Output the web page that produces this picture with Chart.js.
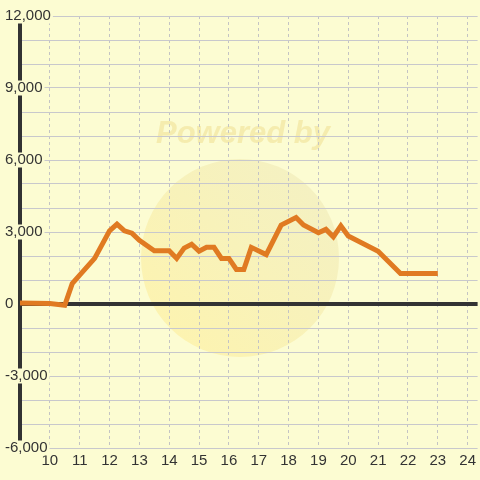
<!DOCTYPE html>
<html>
<head>
<meta charset="utf-8">
<script src="https://cdn.jsdelivr.net/npm/chart.js@4"></script>
<style>
  html, body { margin: 0; padding: 0; background: #fcfcd2; }
  canvas { display: block; }
</style>
</head>
<body>
<canvas id="chart" width="480" height="480"></canvas>
<script>
/* ── Data ───────────────────────────────────────────────────────────────────── */
const HOURS = [
  9, 10, 10.5, 10.75, 11, 11.5, 12, 12.25, 12.5, 12.75, 13, 13.5,
  14, 14.25, 14.5, 14.75, 15, 15.25, 15.5, 15.75, 16, 16.25, 16.5, 16.75,
  17.25, 17.75, 18.25, 18.5, 19, 19.25, 19.5, 19.75, 20, 21, 21.75, 23,
];
const VALUES = [
  40, 20, -50, 850, 1200, 1900, 3050, 3330, 3050, 2950, 2650, 2220,
  2220, 1900, 2330, 2490, 2200, 2360, 2360, 1900, 1900, 1440, 1440, 2360,
  2060, 3290, 3600, 3290, 2970, 3110, 2800, 3260, 2830, 2200, 1270, 1270,
];
const X_TICKS = [10, 11, 12, 13, 14, 15, 16, 17, 18, 19, 20, 21, 22, 23, 24];
const Y_LABEL_STEP = 3000;

/* ── Style ──────────────────────────────────────────────────────────────────── */
const BG = "#fcfcd2";
const TEXT = "#333333";
const LINE = "#e07a22";
const FONT = "'Liberation Sans', Arial, sans-serif";

/* ── Watermark (drawn under the grid) ───────────────────────────────────────── */
const watermark = {
  id: "watermark",
  beforeDraw(chart) {
    const { ctx } = chart;
    ctx.save();
    ctx.fillStyle = BG;
    ctx.fillRect(0, 0, chart.width, chart.height);

    const g = ctx.createLinearGradient(160, 340, 320, 170);
    g.addColorStop(0, "rgba(255,228,110,0.35)");
    g.addColorStop(1, "rgba(225,215,160,0.30)");
    ctx.fillStyle = g;
    ctx.beginPath();
    ctx.arc(240, 258, 99, 0, Math.PI * 2);
    ctx.fill();

    ctx.font = "italic bold 31px " + FONT;
    ctx.fillStyle = "rgba(232,205,110,0.35)";
    ctx.textAlign = "center";
    ctx.textBaseline = "alphabetic";
    ctx.fillText("Powered by", 243, 143);
    ctx.restore();
  },
};

/* ── Chart ──────────────────────────────────────────────────────────────────── */
const fmt = (v) => v.toLocaleString("en-US");

new Chart(document.getElementById("chart"), {
  type: "line",
  data: {
    datasets: [{
      data: HOURS.map((h, i) => ({ x: h, y: VALUES[i] })),
      borderColor: LINE,
      borderWidth: 5,
      pointRadius: 0,
      tension: 0,
      fill: false,
    }],
  },
  options: {
    responsive: false,
    animation: false,
    layout: { padding: { left: 5, top: 16, right: 0, bottom: 0 } },
    plugins: { legend: { display: false }, tooltip: { enabled: false } },
    scales: {
      x: {
        type: "linear",
        min: 9,
        max: 9 + 460 / 30,
        afterBuildTicks: (scale) => { scale.ticks = X_TICKS.map((v) => ({ value: v })); },
        afterFit: (scale) => { scale.height = 32; },
        grid: { color: "#c4c4c4", lineWidth: 1, drawTicks: false },
        border: { display: false, dash: [3, 3] },
        ticks: {
          color: TEXT,
          padding: 4,
          maxRotation: 0,
          autoSkip: false,
          font: { family: FONT, size: 15 },
        },
      },
      y: {
        min: -6000,
        max: 12000,
        afterFit: (scale) => {
          scale.width = 15;
          // labels overlap the plot, so don't clip them to the axis box
          scale._computeLabelArea = () => undefined;
        },
        grid: {
          drawTicks: false,
          color: (c) => (c.tick && c.tick.value === 0 ? "#333333" : "#c8c8cc"),
          lineWidth: (c) => (c.tick && c.tick.value === 0 ? 4 : 1),
        },
        border: { display: true, color: "#333333", width: 4 },
        ticks: {
          stepSize: 1000,
          crossAlign: "far",
          color: TEXT,
          font: { family: FONT, size: 15, lineHeight: 1 },
          callback: (v) => (v % Y_LABEL_STEP === 0 ? fmt(v) : ""),
          showLabelBackdrop: (c) => c.tick && c.tick.value % Y_LABEL_STEP === 0,
          backdropColor: BG,
          backdropPadding: { left: 2, right: 2, top: 0, bottom: 0 },
        },
      },
    },
  },
  plugins: [watermark],
});
</script>
</body>
</html>
